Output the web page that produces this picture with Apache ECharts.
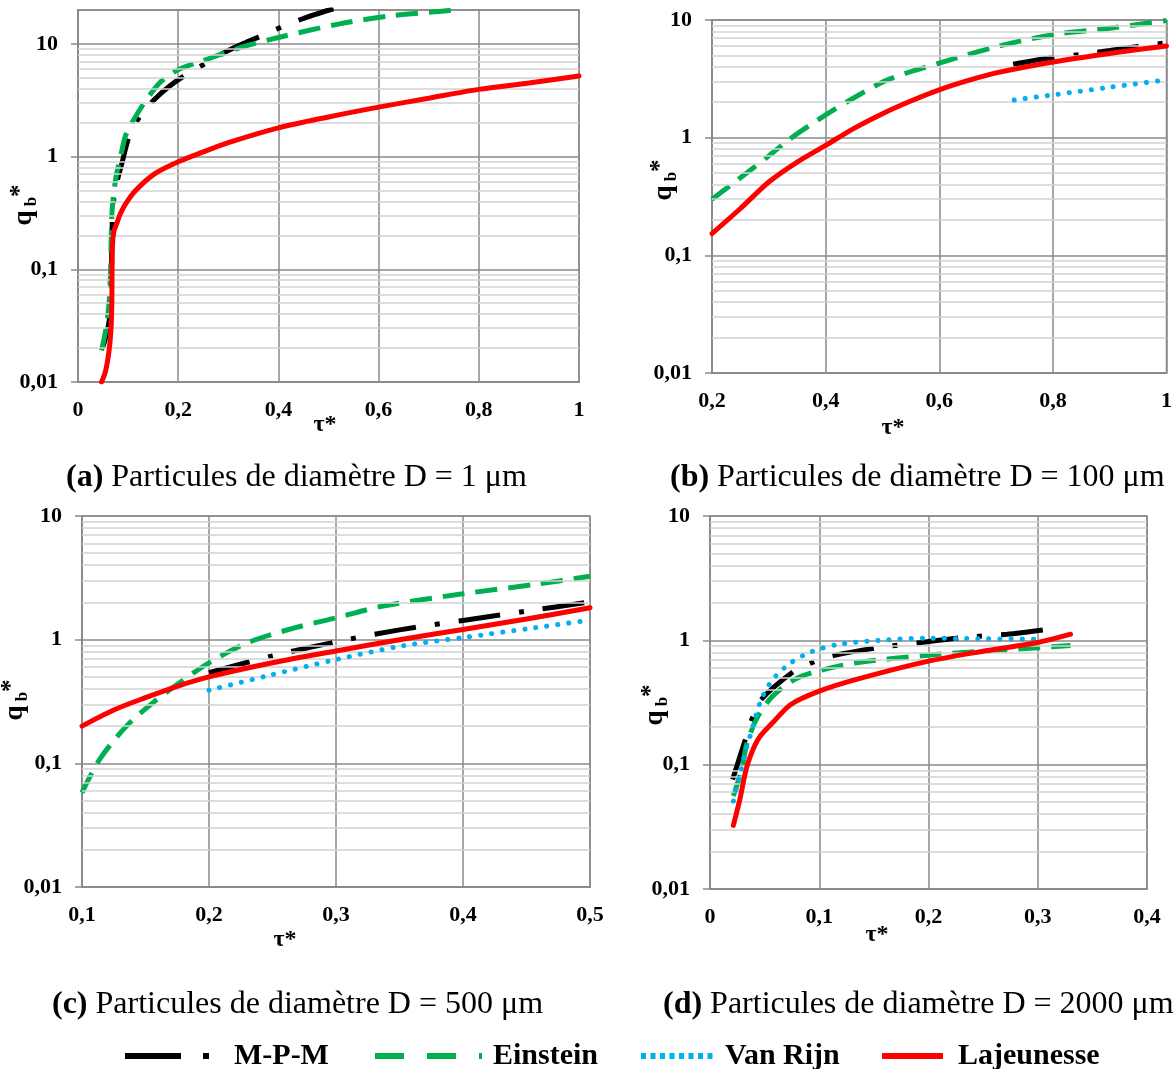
<!DOCTYPE html>
<html><head><meta charset="utf-8">
<script src="https://cdn.jsdelivr.net/npm/echarts@6/dist/echarts.min.js"></script>
<style>html,body{margin:0;padding:0;background:#fff}#c{width:1175px;height:1069px}</style>
</head><body><div id="c"></div>
<script>
// ---------- DATA (tau*, qb*) ----------
const seriesNames = ['M-P-M', 'Einstein', 'Van Rijn', 'Lajeunesse'];
const yTickLabels = ['0,01', '0,1', '1', '10'];
const minorTicks = [0.02,0.03,0.04,0.05,0.06,0.07,0.08,0.09,0.2,0.3,0.4,0.5,0.6,0.7,0.8,0.9,2,3,4,5,6,7,8,9];

// (a) D = 1 µm
const a_mpm = [[0.049,0.02],[0.0585,0.028],[0.0645,0.043],[0.066,0.07],[0.067,0.104],[0.0675,0.2],[0.071,0.4],[0.078,0.6],[0.087,0.85],[0.1035,1.58],[0.1245,2.3],[0.152,3.2],[0.185,4.3],[0.22,5.5],[0.257,6.8],[0.297,8.6],[0.335,10.3],[0.374,12.2],[0.415,14.7],[0.456,17.2],[0.49,19.3],[0.51,20.5]];
const a_ein = [[0.047,0.019],[0.056,0.03],[0.062,0.05],[0.065,0.1],[0.0675,0.3],[0.072,0.5],[0.077,0.7],[0.085,1.0],[0.096,1.58],[0.122,2.55],[0.145,3.6],[0.167,4.7],[0.2,5.9],[0.25,7.1],[0.325,9.3],[0.4,11.4],[0.52,15],[0.625,17.8],[0.737,19.7],[0.76,20.3]];
const a_laj = [[0.047,0.01],[0.055,0.0125],[0.062,0.019],[0.066,0.03],[0.0675,0.05],[0.068,0.1],[0.069,0.17],[0.072,0.22],[0.078,0.26],[0.083,0.3],[0.095,0.38],[0.115,0.5],[0.152,0.7],[0.2,0.9],[0.25,1.1],[0.3,1.33],[0.4,1.8],[0.5,2.25],[0.6,2.75],[0.7,3.3],[0.8,3.95],[0.9,4.5],[1.0,5.2]];

// (b) D = 100 µm
const b_mpm = [[0.73,4.2],[0.8,4.8],[0.85,5.1],[0.9,5.5],[0.95,5.95],[1.0,6.4]];
const b_ein = [[0.2,0.3],[0.261,0.5],[0.3,0.7],[0.339,0.99],[0.4,1.56],[0.444,2.1],[0.509,3.1],[0.6,4.3],[0.705,6.0],[0.8,7.5],[0.9,8.5],[1.0,9.9]];
const b_vr  = [[0.732,2.09],[0.8,2.31],[0.9,2.68],[1.0,3.1]];
const b_laj = [[0.2,0.153],[0.25,0.25],[0.3,0.42],[0.35,0.62],[0.4,0.86],[0.45,1.2],[0.5,1.6],[0.55,2.05],[0.6,2.55],[0.65,3.05],[0.7,3.55],[0.8,4.4],[0.9,5.2],[1.0,6.0]];

// (c) D = 500 µm
const c_mpm = [[0.2,0.54],[0.25,0.74],[0.3,0.96],[0.35,1.2],[0.4,1.43],[0.45,1.7],[0.5,2.02]];
const c_ein = [[0.1,0.058],[0.114,0.108],[0.135,0.2],[0.156,0.31],[0.177,0.45],[0.2,0.65],[0.231,0.95],[0.268,1.25],[0.3,1.5],[0.337,1.87],[0.4,2.35],[0.457,2.8],[0.5,3.26]];
const c_vr  = [[0.2,0.39],[0.246,0.51],[0.3,0.69],[0.352,0.89],[0.4,1.04],[0.457,1.25],[0.5,1.44]];
const c_laj = [[0.1,0.2],[0.125,0.27],[0.15,0.34],[0.175,0.42],[0.2,0.5],[0.25,0.65],[0.3,0.81],[0.35,1.0],[0.4,1.21],[0.45,1.47],[0.5,1.81]];

// (d) D = 2000 µm
const d_mpm = [[0.0207,0.076],[0.0324,0.16],[0.039,0.24],[0.047,0.335],[0.0776,0.57],[0.095,0.67],[0.114,0.757],[0.153,0.87],[0.193,0.96],[0.23,1.05],[0.272,1.12],[0.31,1.23]];
const d_ein = [[0.0214,0.056],[0.029,0.092],[0.034,0.15],[0.044,0.246],[0.0575,0.356],[0.0776,0.485],[0.1,0.57],[0.134,0.66],[0.2,0.76],[0.251,0.82],[0.3,0.87],[0.33,0.91]];
const d_vr  = [[0.0214,0.051],[0.027,0.081],[0.0324,0.125],[0.0375,0.18],[0.047,0.335],[0.0575,0.485],[0.074,0.66],[0.093,0.81],[0.118,0.93],[0.155,1.0],[0.2,1.04],[0.251,1.03],[0.3,1.02]];
const d_laj = [[0.0214,0.0325],[0.0274,0.053],[0.034,0.098],[0.044,0.16],[0.0575,0.218],[0.074,0.305],[0.1,0.39],[0.134,0.485],[0.2,0.68],[0.251,0.82],[0.3,0.96],[0.33,1.12]];

const captions = [
  ['(a)', ' Particules de diamètre D = 1 μm'],
  ['(b)', ' Particules de diamètre D = 100 μm'],
  ['(c)', ' Particules de diamètre D = 500 μm'],
  ['(d)', ' Particules de diamètre D = 2000 μm']
];

// ---------- LAYOUT / STYLE ----------
const FONT = "'Liberation Serif','Times New Roman',serif";
const MAJOR = '#8a8a8a', MINOR = '#d2d2d2';
const panels = [
  {grid:{left:78,top:10,width:501,height:372}, x:[0,1,0.2], yMax:20, data:[a_mpm,a_ein,null,a_laj],
   tau:[325,425], q:[24,205], cap:[66,478]},
  {grid:{left:712,top:20,width:456,height:353}, x:[0.2,1,0.2], yMax:10, data:[b_mpm,b_ein,b_vr,b_laj],
   tau:[893,428], q:[664,180], cap:[670,478]},
  {grid:{left:82,top:516,width:508,height:371}, x:[0.1,0.5,0.1], yMax:10, data:[c_mpm,c_ein,c_vr,c_laj],
   tau:[285,940], q:[15,700], cap:[52,1005]},
  {grid:{left:710,top:516,width:437,height:373}, x:[0,0.4,0.1], yMax:10, data:[d_mpm,d_ein,d_vr,d_laj],
   tau:[877,935], q:[655,705], cap:[663,1005]}
];
const lineStyles = {
  'M-P-M':      {color:'#000000', width:5, type:[42,19,5,19], cap:'butt'},
  'Einstein':   {color:'#00B050', width:5, type:[22,11], cap:'butt'},
  'Van Rijn':   {color:'#00B0F0', width:5, type:[0.1,11], cap:'round'},
  'Lajeunesse': {color:'#FF0000', width:5, type:'solid', cap:'round'}
};
const legendCfg = [
  {left:122, w:86,  type:[56,22,6,30], pad:18},
  {left:372, w:107, type:[29,23], pad:6},
  {left:638, w:75,  type:[5,4.5], pad:4},
  {left:879, w:61,  type:'solid', pad:10}
];

const fmt = v => String(+Number(v).toPrecision(6)).replace('.', ',');

const grid = [], xAxis = [], yAxis = [], series = [], graphic = [];
panels.forEach((p, i) => {
  grid.push(Object.assign({show:true, borderColor:MAJOR, borderWidth:1.5, backgroundColor:'#fff'}, p.grid));
  xAxis.push({type:'value', gridIndex:i, min:p.x[0], max:p.x[1], interval:p.x[2],
    axisLine:{show:true, onZero:false, lineStyle:{color:MAJOR, width:2}},
    axisTick:{show:false},
    splitLine:{show:true, lineStyle:{color:MAJOR, width:1.5}},
    axisLabel:{formatter:fmt, margin:17, fontFamily:FONT, fontWeight:'bold', fontSize:22, color:'#000'}});
  yAxis.push({type:'log', logBase:10, gridIndex:i, min:0.01, max:p.yMax,
    axisLine:{show:true, onZero:false, lineStyle:{color:MAJOR, width:2}},
    axisTick:{show:true, length:7, lineStyle:{color:MAJOR, width:1.5}},
    splitLine:{show:true, lineStyle:{color:MAJOR, width:1.5}},
    axisLabel:{formatter:fmt, showMaxLabel: p.yMax === 10, margin:20, fontFamily:FONT, fontWeight:'bold', fontSize:22, color:'#000'}});
  // minor grid lines (log 2..9 per decade)
  series.push({type:'line', name:'_minor'+i, xAxisIndex:i, yAxisIndex:i, data:[], z:1, silent:true,
    markLine:{silent:true, symbol:['none','none'], label:{show:false}, animation:false,
      lineStyle:{color:MINOR, type:'solid', width:1.6},
      data: minorTicks.filter(v => v < p.yMax).map(v => ({yAxis:v}))}});
  seriesNames.forEach((n, k) => {
    if (!p.data[k]) return;
    series.push({type:'line', name:n, xAxisIndex:i, yAxisIndex:i, data:p.data[k],
      symbol:'none', showSymbol:false, smooth:0.3, z:3+k, animation:false,
      lineStyle:Object.assign({}, lineStyles[n])});
  });
  graphic.push({type:'text', x:p.tau[0], y:p.tau[1], style:{text:'τ*', fill:'#000',
    font:'bold 24px ' + FONT, textAlign:'center', textVerticalAlign:'middle'}});
  graphic.push({type:'text', x:p.q[0], y:p.q[1], rotation:Math.PI/2, style:{
    text:'{q|q}{b| b}{s|*}', textAlign:'center', textVerticalAlign:'middle',
    rich:{q:{fontFamily:FONT, fontWeight:'bold', fontSize:27, lineHeight:32, fill:'#000', verticalAlign:'middle'},
          b:{fontFamily:FONT, fontWeight:'bold', fontSize:17, lineHeight:32, fill:'#000', verticalAlign:'bottom'},
          s:{fontFamily:FONT, fontWeight:'bold', fontSize:25, lineHeight:32, fill:'#000', verticalAlign:'top'}}}});
  graphic.push({type:'text', x:p.cap[0], y:p.cap[1], style:{
    text:'{b|' + captions[i][0] + '}{n|' + captions[i][1] + '}', textAlign:'left', textVerticalAlign:'middle',
    rich:{b:{fontFamily:FONT, fontWeight:'bold', fontSize:32, fill:'#000'},
          n:{fontFamily:FONT, fontSize:32, fill:'#000'}}}});
});

const legend = seriesNames.map((n, k) => ({
  data:[{name:n, itemStyle:{opacity:0, borderWidth:0, color:'rgba(0,0,0,0)'}}],
  left:legendCfg[k].left, top:1041, padding:0, orient:'horizontal',
  itemWidth:legendCfg[k].w, itemHeight:14, selectedMode:false,
  itemStyle:{opacity:0, borderWidth:0, color:'rgba(0,0,0,0)'},
  lineStyle:{type:legendCfg[k].type, width:6, cap:'butt', color:lineStyles[n].color, opacity:1},
  textStyle:{fontFamily:FONT, fontWeight:'bold', fontSize:30, color:'#000', padding:[0,0,0,legendCfg[k].pad]}
}));

const chart = echarts.init(document.getElementById('c'), null, {renderer:'canvas'});
chart.setOption({backgroundColor:'#fff', animation:false, grid, xAxis, yAxis, series, legend, graphic});
</script></body></html>
